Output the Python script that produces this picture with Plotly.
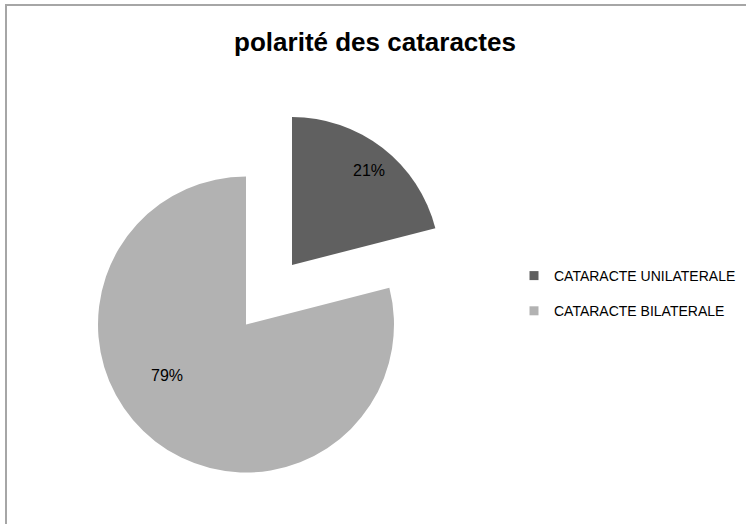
import plotly.graph_objects as go

# Chart data
categories = ["CATARACTE UNILATERALE", "CATARACTE BILATERALE"]
values = [21, 79]
slice_colors = ["#606060", "#b2b2b2"]
title_text = "polarité des cataractes"

W, H = 746, 524
R = 148  # pie radius in px


def domain(cx, cy):
    """Pie domain (paper fractions) for a pie of radius R centred at (cx, cy) px."""
    return dict(x=[(cx - R) / W, (cx + R) / W],
                y=[1 - (cy + R) / H, 1 - (cy - R) / H])


transparent = "rgba(0,0,0,0)"
common = dict(labels=categories, values=values, sort=False, direction="clockwise",
              rotation=0, textinfo="none", showlegend=False,
              hoverinfo="label+percent")

fig = go.Figure()

# main body of the pie: the bilateral slice
fig.add_trace(go.Pie(domain=domain(246, 324.5),
                     marker=dict(colors=[transparent, slice_colors[1]], line=dict(width=0)),
                     **common))
# exploded unilateral slice, shifted out along its bisector
fig.add_trace(go.Pie(domain=domain(292, 265),
                     marker=dict(colors=[slice_colors[0], transparent], line=dict(width=0)),
                     **common))

# percentage labels inside the slices
total = sum(values)
label_pos = [(369, 170), (167, 375)]  # px positions of the labels
for v, (px, py) in zip(values, label_pos):
    fig.add_annotation(text=f"{round(100 * v / total)}%", xref="paper", yref="paper",
                       x=px / W, y=1 - py / H, xanchor="center", yanchor="middle",
                       showarrow=False,
                       font=dict(family="Liberation Sans, Arial", size=16, color="#000000"))

# legend entries
for i, (name, col) in enumerate(zip(categories, slice_colors)):
    fig.add_trace(go.Scatter(x=[None], y=[None], mode="markers", name=name,
                             legendgroup=f"g{i}",
                             marker=dict(symbol="square", size=9, color=col)))

# chart frame
fig.add_shape(type="rect", xref="paper", yref="paper",
              x0=6 / W, x1=1.05, y0=-0.05, y1=1 - 5 / H,
              line=dict(color="#a6a6a6", width=2), fillcolor="rgba(0,0,0,0)",
              layer="below")

fig.update_layout(
    width=W, height=H,
    margin=dict(l=0, r=0, t=0, b=0),
    paper_bgcolor="white", plot_bgcolor="white",
    font=dict(family="Liberation Sans, Arial", color="#000000"),
    title=dict(text=f"<b>{title_text}</b>", x=375 / W, xanchor="center",
               y=1 - 42 / H, yanchor="middle",
               font=dict(size=26, family="Liberation Sans, Arial", color="#000000")),
    xaxis=dict(visible=False), yaxis=dict(visible=False),
    showlegend=True,
    legend=dict(x=514 / W, xanchor="left", y=1 - 260 / H, yanchor="top",
                font=dict(size=14, family="Liberation Sans, Arial", color="#000000"),
                tracegroupgap=14, bgcolor="rgba(0,0,0,0)", itemclick=False),
)

fig.write_html("out.html")
